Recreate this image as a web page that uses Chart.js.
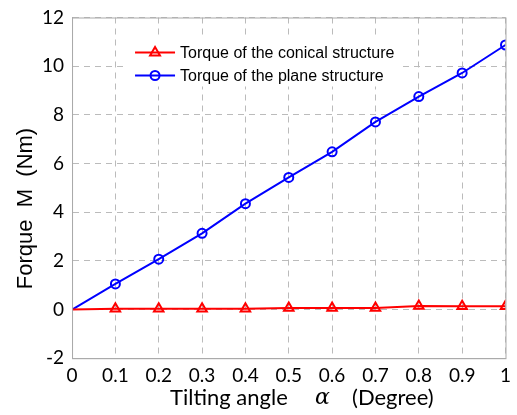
<!DOCTYPE html>
<html><head><meta charset="utf-8">
<script src="https://cdn.jsdelivr.net/npm/chart.js@4/dist/chart.umd.min.js"></script>
<style>html,body{margin:0;padding:0;background:#fff}#wrap{width:517px;height:415px}</style>
</head><body><div id="wrap"><canvas id="c" width="517" height="415"></canvas></div>
<script>
const angles = [0, 0.1, 0.2, 0.3, 0.4, 0.5, 0.6, 0.7, 0.8, 0.9, 1.0];
const conicalTorque = [0, 0.03, 0.03, 0.03, 0.03, 0.06, 0.06, 0.06, 0.14, 0.13, 0.13];
const planeTorque = [0, 1.05, 2.07, 3.13, 4.35, 5.43, 6.48, 7.71, 8.75, 9.72, 10.87];
const seriesLabels = ['Torque of the conical structure', 'Torque of the plane structure'];
const xTickLabels = ['0','0.1','0.2','0.3','0.4','0.5','0.6','0.7','0.8','0.9','1'];
const yTickLabels = ['-2','0','2','4','6','8','10','12'];
const xTitleParts = ['Tilting angle', 'α', '(Degree)'];
const yTitle = 'Forque  M  (Nm)';

const toXY = arr => arr.map((v,i)=>({x:angles[i], y:v}));

const legendBgPlugin = {
  id:'legendBg',
  beforeDatasetsDraw(chart){
    const {ctx, chartArea:a} = chart;
    ctx.save();
    ctx.fillStyle='#ffffff';
    ctx.fillRect(a.left+53, a.top+21, 273, 48);
    ctx.restore();
  }
};

const boxPlugin = {
  id:'box',
  afterDraw(chart){
    const {ctx, chartArea:a} = chart;
    ctx.save();
    ctx.strokeStyle='#aaaaaa'; ctx.lineWidth=1;
    ctx.strokeRect(a.left+0.5, a.top+0.5, a.right-a.left, a.bottom-a.top);
    // legend
    const items = chart.data.datasets;
    const lx0 = a.left+63, lx1 = a.left+103;
    items.forEach((ds,i)=>{
      const y = a.top + 35 + i*23;
      ctx.strokeStyle=ds.borderColor; ctx.lineWidth=2;
      ctx.beginPath(); ctx.moveTo(lx0,y); ctx.lineTo(lx1,y); ctx.stroke();
      const cx=(lx0+lx1)/2;
      ctx.beginPath();
      if(ds.pointStyle==='triangle'){
        const r=5.5;
        ctx.moveTo(cx, y-r); ctx.lineTo(cx+r*0.9, y+r*0.55); ctx.lineTo(cx-r*0.9, y+r*0.55); ctx.closePath();
      } else {
        ctx.arc(cx,y,4.5,0,Math.PI*2);
      }
      ctx.stroke();
      ctx.fillStyle='#000'; ctx.font='16px "Liberation Sans", Arial'; ctx.textBaseline='middle';
      ctx.fillText(ds.label, lx1+5, y+1);
    });
    // axis titles
    const xs = chart.scales.x;
    ctx.fillStyle='#000';
    ctx.textBaseline='alphabetic';
    const base = 405;
    ctx.font='22px Lato';
    ctx.fillText(xTitleParts[0], xs.left + 98, base);
    ctx.font='italic 22px "DejaVu Serif", serif';
    ctx.fillText(xTitleParts[1], xs.left + 243, base - 1);
    ctx.font='22px Lato';
    ctx.fillText(xTitleParts[2], xs.left + 280, base);
    ctx.translate(a.left - 46, a.top + 191);
    ctx.rotate(-Math.PI/2);
    ctx.font='22px "Liberation Sans", Arial';
    ctx.textAlign='center'; ctx.textBaseline='middle';
    ctx.fillText(yTitle, 0, 0);
    ctx.restore();
  }
};

new Chart(document.getElementById('c'), {
  type:'line',
  data:{datasets:[
    {label:seriesLabels[0], data:toXY(conicalTorque), borderColor:'#ff0000', backgroundColor:'rgba(0,0,0,0)',
     pointStyle:'triangle', pointRadius:angles.map((a,i)=>i===0?0:5.5), pointBorderWidth:2, borderWidth:2, tension:0},
    {label:seriesLabels[1], data:toXY(planeTorque), borderColor:'#0000ff', backgroundColor:'rgba(0,0,0,0)',
     pointStyle:'circle', pointRadius:angles.map((a,i)=>i===0?0:4.5), pointBorderWidth:2, borderWidth:2, tension:0}
  ]},
  options:{
    responsive:false, animation:false,
    layout:{padding:{left:34,right:0,top:0,bottom:22}},
    plugins:{legend:{display:false}, tooltip:{enabled:false}},
    scales:{
      x:{type:'linear', min:0, max:1,
        ticks:{stepSize:0.1, color:'#000', font:{family:'Lato', size:19}, padding:6,
          callback:(v)=>{const i=Math.round(v*10); return xTickLabels[i];}},
        grid:{color:'#bbbbbb', tickLength:0},
        border:{color:'#aaaaaa', dash:[6,5], display:true},
        title:{display:false}
      },
      y:{min:-2, max:12,
        ticks:{stepSize:2, color:'#000', font:{family:'Lato', size:19, lineHeight:1}, padding:8,
          callback:(v)=>{const i=Math.round((v+2)/2); return yTickLabels[i];}},
        grid:{color:'#bbbbbb', tickLength:0},
        border:{color:'#aaaaaa', dash:[6,5]},
        title:{display:false}
      }
    }
  },
  plugins:[legendBgPlugin, boxPlugin]
});
</script></body></html>
